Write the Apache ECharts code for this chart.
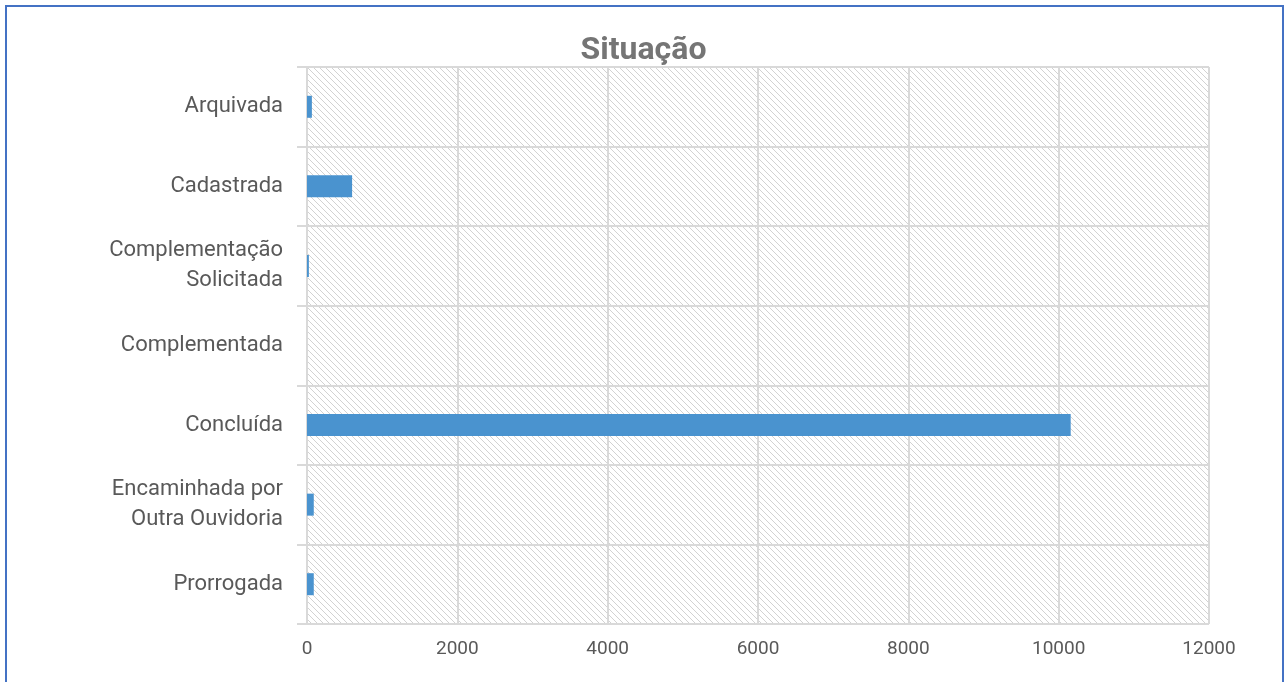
<!DOCTYPE html>
<html>
<head>
<meta charset="utf-8">
<script src="https://cdn.jsdelivr.net/npm/echarts@6/dist/echarts.min.js"></script>
<style>
  html, body { margin: 0; padding: 0; background: #fff; }
  #frame { position: absolute; left: 5px; top: 5px; width: 1279px; height: 680px; border: 2px solid #4472C4; box-sizing: border-box; }
  #chart { position: absolute; left: 0; top: 0; width: 1287px; height: 682px; }
</style>
</head>
<body>
<div id="frame"></div>
<div id="chart"></div>
<script>
// dados
const categorias = ['Arquivada', 'Cadastrada', 'Complementação\nSolicitada', 'Complementada', 'Concluída', 'Encaminhada por\nOutra Ouvidoria', 'Prorrogada'];
const valores = [65, 600, 25, 0, 10160, 90, 90];
const xTicks = [0, 2000, 4000, 6000, 8000, 10000, 12000];

const fonte = 'Roboto, sans-serif';

// hachura diagonal do fundo
function hachura() {
  const n = 6;
  const c = document.createElement('canvas');
  c.width = n; c.height = n;
  const ctx = c.getContext('2d');
  ctx.strokeStyle = '#d2d2d2';
  ctx.lineWidth = 1;
  for (let k = -1; k <= 1; k++) {
    ctx.beginPath();
    ctx.moveTo(k * n, 0);
    ctx.lineTo(k * n + n, n);
    ctx.stroke();
  }
  return c;
}

let chart = echarts.init(document.getElementById('chart'));
let option = {
  animation: false,
  title: {
    text: 'Situação',
    left: 'center',
    top: 30,
    textStyle: { fontFamily: fonte, fontSize: 32, fontWeight: 'bold', color: '#757575' }
  },
  grid: {
    left: 307, right: 78, top: 67, bottom: 58,
    show: true,
    borderWidth: 0,
    backgroundColor: { image: hachura(), repeat: 'repeat' }
  },
  xAxis: {
    type: 'value',
    min: 0,
    max: 12000,
    interval: 2000,
    axisLine: { show: false },
    axisTick: { show: false },
    splitLine: { show: true, lineStyle: { color: '#d9d9d9', width: 2 } },
    axisLabel: {
      fontFamily: fonte, fontSize: 19, color: '#595959', margin: 16,
      formatter: function (v) { return xTicks.indexOf(v) >= 0 ? String(v) : ''; }
    }
  },
  yAxis: {
    type: 'category',
    inverse: true,
    data: categorias,
    axisLine: { show: true, lineStyle: { color: '#d9d9d9', width: 2 } },
    axisTick: { show: true, length: 10, lineStyle: { color: '#d9d9d9', width: 2 } },
    splitLine: { show: true, lineStyle: { color: '#d9d9d9', width: 2 } },
    axisLabel: { fontFamily: fonte, fontSize: 22, color: '#595959', margin: 24, lineHeight: 30, align: 'right' }
  },
  series: [{
    type: 'bar',
    data: valores,
    barWidth: 22,
    itemStyle: { color: '#4A93CF' }
  }]
};
option && chart.setOption(option);
</script>
</body>
</html>
